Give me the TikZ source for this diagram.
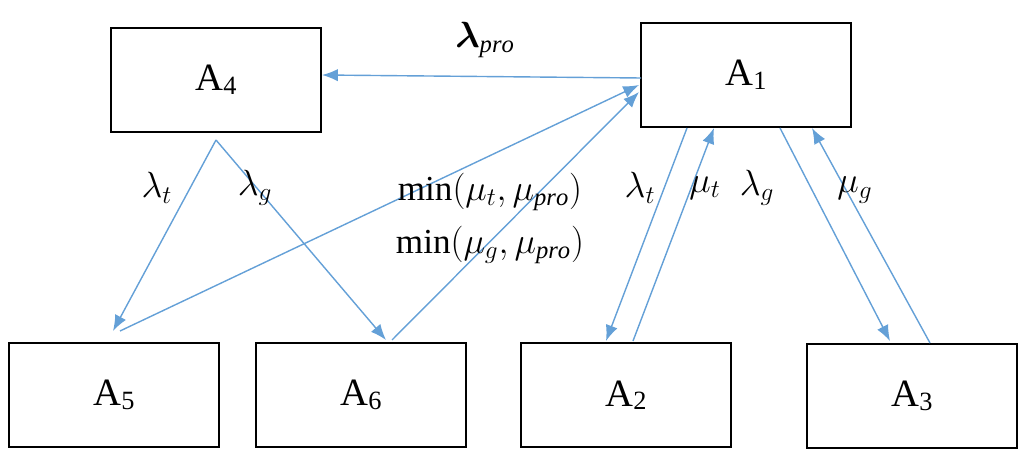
\documentclass[tikz,border=0pt]{standalone}
\usepackage{amsmath,bm}
\usepackage{fontspec}
\setmainfont{Liberation Serif}
\usetikzlibrary{arrows.meta}
\definecolor{ln}{RGB}{100,160,215}
\begin{document}
\begin{tikzpicture}[x=0.02cm,y=-0.02cm,
  box/.style={draw,line width=1pt,minimum width=4.2cm,minimum height=2.08cm,inner sep=0pt,font=\fontsize{22}{24}\selectfont},
  arr/.style={draw=ln,line width=0.8pt,-{Latex[length=9pt,width=7pt,fill=ln]}},
  lab/.style={font=\fontsize{20}{22}\selectfont,inner sep=0pt}]
\useasboundingbox (0,0) rectangle (1024,462);
\node[box] (a4) at (216,80) {A\raisebox{-2pt}{\fontsize{15}{16}\selectfont 4}};
\node[box] (a1) at (746,75) {A\raisebox{-2pt}{\fontsize{15}{16}\selectfont 1}};
\node[box] (a5) at (114,395) {A\raisebox{-2pt}{\fontsize{15}{16}\selectfont 5}};
\node[box] (a6) at (361,395) {A\raisebox{-2pt}{\fontsize{15}{16}\selectfont 6}};
\node[box] (a2) at (626,395) {A\raisebox{-2pt}{\fontsize{15}{16}\selectfont 2}};
\node[box] (a3) at (912,396) {A\raisebox{-2pt}{\fontsize{15}{16}\selectfont 3}};
\coordinate (a1l) at (641,78); \coordinate (a4r) at (322,75);
\coordinate (a4b) at (216,140);
\coordinate (a5t) at (113,331); \coordinate (a6t) at (386,340);
\coordinate (a5s) at (120,331); \coordinate (a6s) at (392,340);
\coordinate (a1x) at (639,85); \coordinate (a1y) at (639,92);
\coordinate (a1b1) at (687,128); \coordinate (a2t1) at (606,341);
\coordinate (a2t2) at (633,341); \coordinate (a1b2) at (714,128);
\coordinate (a1b3) at (780,128); \coordinate (a3t1) at (890,341);
\coordinate (a3t2) at (930,343); \coordinate (a1b4) at (812,128);
\draw[arr] (a1l) -- (a4r);
\draw[arr] (a4b) -- (a5t);
\draw[arr] (a4b) -- (a6t);
\draw[arr] (a5s) -- (a1x);
\draw[arr] (a6s) -- (a1y);
\draw[arr] (a1b1) -- (a2t1);
\draw[arr] (a2t2) -- (a1b2);
\draw[arr] (a1b3) -- (a3t1);
\draw[arr] (a3t2) -- (a1b4);
\node[lab] (l1) at (485,40) {$\bm{\lambda}_{\mathit{pro}}$};
\node[lab] (l2) at (157,188) {$\lambda_t$};
\node[lab] (l3) at (255,188) {$\lambda_g$};
\node[lab] (l4) at (490,192) {$\min(\mu_t,\mu_{\mathit{pro}})$};
\node[lab] (l5) at (490,245) {$\min(\mu_g,\mu_{\mathit{pro}})$};
\node[lab] (l6) at (640,188) {$\lambda_t$};
\node[lab] (l7) at (705,188) {$\mu_t$};
\node[lab] (l8) at (757,188) {$\lambda_g$};
\node[lab] (l9) at (855,190) {$\mu_g$};
\end{tikzpicture}
\end{document}
